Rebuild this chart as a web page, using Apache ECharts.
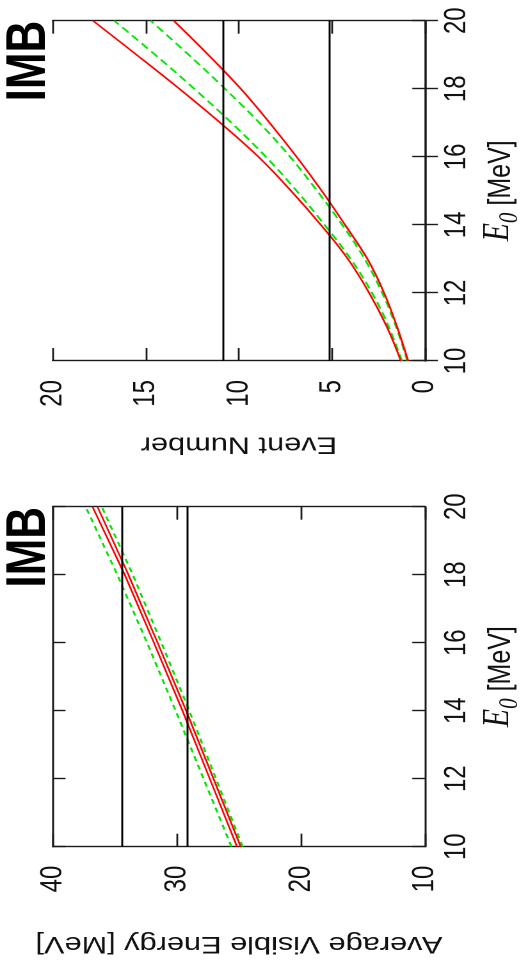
<!DOCTYPE html>
<html>
<head>
<meta charset="utf-8">
<script src="https://cdn.jsdelivr.net/npm/echarts/dist/echarts.min.js"></script>
<style>
html,body{margin:0;padding:0;background:#fff;overflow:hidden;width:530px;height:972px;}
#chart{position:absolute;left:0;top:0;width:972px;height:414px;transform-origin:0 0;
  transform:translate(0px,972px) rotate(-90deg) scale(1,1.28);}
</style>
</head>
<body>
<div id="chart"></div>
<script>
// ---- Data ----
// Left panel: average visible energy vs E0
const e0Energy = [10, 12, 14, 16, 18, 20];
const redUpperEnergy   = [25.15, 27.35, 29.55, 31.85, 34.2, 36.8];
const redLowerEnergy   = [24.85, 27.05, 29.25, 31.55, 33.9, 36.4];
const greenUpperEnergy = [25.6, 27.85, 30.1, 32.4, 34.8, 37.35];
const greenLowerEnergy = [24.7, 26.85, 29.0, 31.25, 33.55, 36.05];
const energyLines = [34.4, 29.2];
const energyTicks = [10, 20, 30, 40];

// Right panel: event number vs E0
const e0Counts = [10, 11, 12, 13, 14, 15, 16, 17, 18, 19, 20];
const redUpperCount   = [1.3, 2.05, 3.0, 4.15, 5.6, 7.2, 8.95, 11.0, 13.2, 15.5, 17.84];
const greenUpperCount = [1.25, 1.95, 2.85, 4.0, 5.4, 6.9, 8.55, 10.4, 12.4, 14.5, 16.7];
const greenLowerCount = [0.95, 1.55, 2.3, 3.25, 4.45, 5.8, 7.25, 8.9, 10.75, 12.7, 14.74];
const redLowerCount   = [0.91, 1.5, 2.2, 3.1, 4.3, 5.55, 6.9, 8.35, 9.9, 11.65, 13.5];
const eventLines = [10.83, 5.15];
const countTicks = [0, 5, 10, 15, 20];

const e0Ticks = [10, 12, 14, 16, 18, 20];
const detector = 'IMB';
const e0Name = '{e|E}{s|0}{u|[MeV]}';
const energyName = 'Average Visible Energy [MeV]';
const countName = 'Event Number';

// ---- Styles ----
const SANS = 'Liberation Sans, Arial, Helvetica, sans-serif';
const SERIF = 'Liberation Serif, Times New Roman, serif';
const RED = '#ff0000';
const GREEN = '#00e600';
const AXIS = '#1a1a1a';

const zip = (xs, ys) => xs.map((x, i) => [x, ys[i]]);

function line(xs, ys, color, grid, dash, width, smooth) {
  return {
    type: 'line', xAxisIndex: grid * 2, yAxisIndex: grid * 2,
    data: zip(xs, ys), showSymbol: false, symbol: 'none', smooth: smooth,
    lineStyle: { color: color, width: width, type: dash ? dash : 'solid' },
    z: dash ? 3 : 4, silent: true, clip: true
  };
}

function refLines(values, grid) {
  return {
    type: 'line', xAxisIndex: grid * 2, yAxisIndex: grid * 2, data: [],
    markLine: {
      silent: true, symbol: 'none', label: { show: false },
      lineStyle: { color: '#000', width: 1.4, type: 'solid' },
      data: values.map(v => ({ yAxis: v }))
    }
  };
}

function e0Axis(grid, main) {
  return {
    gridIndex: grid, type: 'value', min: e0Ticks[0], max: e0Ticks[e0Ticks.length - 1],
    interval: e0Ticks[1] - e0Ticks[0], position: main ? 'bottom' : 'top',
    axisLine: { show: true, lineStyle: { color: AXIS, width: 1.4 } },
    axisTick: { show: true, inside: true, length: 10, lineStyle: { color: AXIS, width: 1.4 } },
    splitLine: { show: false },
    axisLabel: { show: main, fontFamily: SANS, fontSize: 24, color: '#111', margin: 13 },
    name: main ? e0Name : '', nameLocation: 'middle', nameGap: 37,
    nameTextStyle: {
      color: '#111',
      rich: {
        e: { fontFamily: SERIF, fontStyle: 'italic', fontSize: 30, verticalAlign: 'bottom', padding: [0, 0, 5, 0], color: '#111' },
        s: { fontFamily: SERIF, fontStyle: 'italic', fontSize: 21, verticalAlign: 'bottom', color: '#111' },
        u: { fontFamily: SANS, fontSize: 25, verticalAlign: 'bottom', padding: [0, 0, 5, 7], color: '#111' }
      }
    }
  };
}

function valAxis(grid, main, ticks, name, gap) {
  return {
    gridIndex: grid, type: 'value', min: ticks[0], max: ticks[ticks.length - 1],
    interval: ticks[1] - ticks[0], position: main ? 'left' : 'right',
    axisLine: { show: true, lineStyle: { color: AXIS, width: 1.4 } },
    axisTick: { show: true, inside: true, length: 13, lineStyle: { color: AXIS, width: 1.4 } },
    splitLine: { show: false },
    axisLabel: { show: main, fontFamily: SANS, fontSize: 24, color: '#111', margin: 19 },
    name: main ? name : '', nameLocation: 'middle', nameGap: gap,
    nameTextStyle: { fontFamily: SANS, fontSize: 24, color: '#111' }
  };
}

const option = {
  animation: false,
  backgroundColor: '#fff',
  title: [
    { text: detector, right: 507, top: 1, padding: 0,
      textStyle: { fontFamily: SANS, fontWeight: 'bold', fontSize: 44, lineHeight: 44, color: '#000' } },
    { text: detector, right: 20.7, top: 1, padding: 0,
      textStyle: { fontFamily: SANS, fontWeight: 'bold', fontSize: 44, lineHeight: 44, color: '#000' } }
  ],
  grid: [
    { left: 125.3, top: 41.2, width: 340, height: 302 },
    { left: 611, top: 41.2, width: 340.3, height: 302 }
  ],
  xAxis: [e0Axis(0, true), e0Axis(0, false), e0Axis(1, true), e0Axis(1, false)],
  yAxis: [
    valAxis(0, true, energyTicks, energyName, 85),
    valAxis(0, false, energyTicks, '', 0),
    valAxis(1, true, countTicks, countName, 71),
    valAxis(1, false, countTicks, '', 0)
  ],
  series: [
    refLines(energyLines, 0),
    line(e0Energy, greenUpperEnergy, GREEN, 0, [5, 4], 1.6, false),
    line(e0Energy, greenLowerEnergy, GREEN, 0, [5, 4], 1.6, false),
    line(e0Energy, redUpperEnergy, RED, 0, null, 1.4, false),
    line(e0Energy, redLowerEnergy, RED, 0, null, 1.4, false),
    refLines(eventLines, 1),
    line(e0Counts, greenUpperCount, GREEN, 1, [7, 4], 1.6, 0.4),
    line(e0Counts, greenLowerCount, GREEN, 1, [7, 4], 1.6, 0.4),
    line(e0Counts, redUpperCount, RED, 1, null, 1.5, 0.4),
    line(e0Counts, redLowerCount, RED, 1, null, 1.5, 0.4)
  ]
};

const chart = echarts.init(document.getElementById('chart'), null, { renderer: 'canvas', devicePixelRatio: 2 });
chart.setOption(option);
</script>
</body>
</html>
